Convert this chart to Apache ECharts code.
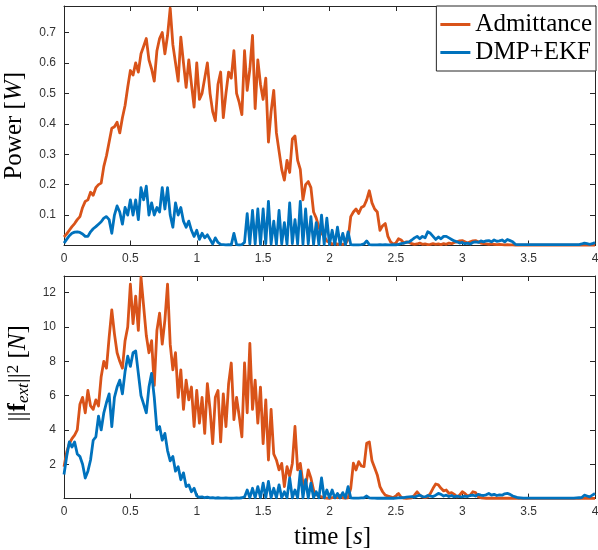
<!DOCTYPE html>
<html>
<head>
<meta charset="utf-8">
<script src="https://cdn.jsdelivr.net/npm/echarts@6/dist/echarts.min.js"></script>
<style>html,body{margin:0;padding:0;background:#fff}#c{width:598px;height:550px}</style>
</head>
<body>
<div id="c"></div>
<script>
// sampling step of the time axis [s]
const dt = 0.02;
const seriesNames = ['Admittance', 'DMP+EKF'];

// Power [W], Admittance
const powerAdmittance = [
0.028,0.038,0.05,0.062,0.072,0.085,0.095,0.125,0.145,0.15,
0.175,0.165,0.19,0.2,0.205,0.26,0.295,0.34,0.385,0.39,
0.405,0.37,0.42,0.46,0.52,0.575,0.56,0.6,0.57,0.63,
0.655,0.68,0.61,0.58,0.54,0.64,0.68,0.70,0.63,0.69,
0.78,0.66,0.6,0.54,0.685,0.6,0.52,0.61,0.53,0.455,
0.60,0.48,0.5,0.55,0.6,0.5,0.44,0.41,0.53,0.57,
0.42,0.5,0.57,0.55,0.64,0.5,0.47,0.43,0.64,0.51,
0.58,0.69,0.45,0.61,0.53,0.48,0.55,0.34,0.44,0.51,
0.37,0.31,0.25,0.215,0.28,0.24,0.35,0.36,0.28,0.25,
0.15,0.2,0.21,0.19,0.11,0.09,0.06,0.04,0.03,0.015,
0.01,0.005,0.008,0.004,0.006,0.004,0.005,0.02,0.095,0.11,
0.12,0.105,0.125,0.13,0.15,0.18,0.14,0.12,0.11,0.05,
0.065,0.072,0.03,0.012,0.005,0.008,0.022,0.018,0.008,0.012,
0.01,0.006,0.004,0.005,0.008,0.004,0.005,0.003,0.004,0.006,
0.004,0.005,0.003,0.006,0.004,0.008,0.006,0.01,0.012,0.015,
0.016,0.012,0.008,0.012,0.015,0.016,0.012,0.008,0.006,0.005,
0.004,0.005,0.004,0.003,0.004,0.003,0.002,0.003,0.002,0.002,
0.001,0.001,0.001,0.001,0.001,0.001,0.001,0.001,0.001,0.001,
0.001,0.001,0.001,0.001,0.001,0.001,0.001,0.001,0.001,0.001,
0.001,0.001,0.001,0.001,0.001,0.001,0.001,0.001,0.001,0.001,
0.001
];

// Power [W], DMP+EKF
const powerDmp = [
0.008,0.02,0.032,0.04,0.044,0.045,0.043,0.038,0.03,0.03,
0.045,0.055,0.062,0.07,0.078,0.09,0.095,0.085,0.04,0.1,
0.13,0.11,0.07,0.125,0.1,0.15,0.1,0.15,0.085,0.19,
0.15,0.195,0.1,0.14,0.1,0.125,0.11,0.19,0.12,0.19,
0.1,0.06,0.14,0.1,0.125,0.08,0.06,0.08,0.05,0.03,
0.05,0.02,0.04,0.025,0.035,0.02,0.005,0.025,0.01,0.004,
0.003,0.002,0.003,0.002,0.04,0.003,0.002,0.003,0.01,0.105,
0.005,0.115,0.005,0.12,0.004,0.12,0.006,0.145,0.005,0.08,
0.004,0.115,0.005,0.075,0.004,0.14,0.006,0.085,0.005,0.145,
0.004,0.12,0.005,0.095,0.004,0.075,0.003,0.1,0.004,0.09,
0.003,0.05,0.003,0.06,0.003,0.04,0.003,0.045,0.003,0.002,
0.002,0.002,0.003,0.005,0.015,0.003,0.002,0.002,0.002,0.003,
0.002,0.003,0.002,0.002,0.003,0.002,0.004,0.006,0.008,0.01,
0.012,0.018,0.025,0.03,0.022,0.03,0.025,0.045,0.04,0.03,
0.02,0.028,0.022,0.03,0.03,0.025,0.02,0.015,0.012,0.008,
0.01,0.006,0.008,0.005,0.01,0.012,0.01,0.015,0.012,0.015,
0.016,0.012,0.018,0.014,0.015,0.018,0.012,0.02,0.016,0.012,
0.004,0.003,0.003,0.003,0.003,0.003,0.003,0.003,0.003,0.003,
0.003,0.003,0.003,0.003,0.003,0.003,0.003,0.003,0.003,0.003,
0.003,0.003,0.003,0.003,0.003,0.005,0.008,0.006,0.004,0.006,
0.01
];

// ||f_ext||^2 [N], Admittance
const forceAdmittance = [
1.86,2.7,3.2,3.5,3.7,4.0,5.5,5.9,5.0,6.3,
5.4,5.2,5.75,5.4,7.1,8.0,7.6,9.4,11.0,9.6,
8.5,8.0,7.6,9.2,10.0,12.5,10.2,11.8,9.8,12.9,
11.2,9.5,8.5,9.2,6.6,9.8,10.8,9.0,10.4,12.5,
9.0,7.5,8.5,5.9,7.5,5.2,6.9,5.75,6.5,4.2,
6.3,4.4,5.9,3.8,6.7,5.2,3.2,5.9,6.3,3.3,
6.1,4.2,6.7,7.9,4.6,5.9,4.8,3.6,7.9,5.0,
9.05,5.2,6.9,4.4,6.5,3.2,5.75,2.25,5.2,2.6,
2.25,1.67,2.05,0.7,1.86,1.3,2.05,4.2,1.67,2.05,
0.9,0.7,1.67,1.2,0.5,0.22,0.15,0.1,0.05,0.03,
0.02,0.05,0.1,0.05,0.2,0.05,0.03,0.05,0.6,2.06,
1.67,2.15,1.9,1.86,3.22,3.3,2.2,1.8,1.38,0.7,
0.4,0.2,0.15,0.1,0.05,0.15,0.3,0.08,0.03,0.02,
0.03,0.05,0.2,0.4,0.2,0.1,0.05,0.1,0.3,0.6,
0.85,0.8,0.6,0.45,0.5,0.3,0.35,0.25,0.1,0.2,
0.4,0.3,0.15,0.2,0.4,0.35,0.1,0.05,0.03,0.02,
0.02,0.02,0.02,0.02,0.02,0.02,0.02,0.02,0.02,0.02,
0.01,0.01,0.01,0.01,0.01,0.01,0.01,0.01,0.01,0.01,
0.01,0.01,0.01,0.01,0.01,0.01,0.01,0.01,0.01,0.01,
0.01,0.01,0.01,0.01,0.01,0.01,0.01,0.01,0.01,0.01,
0.01
];

// ||f_ext||^2 [N], DMP+EKF
const forceDmp = [
1.4,2.45,3.3,3.0,3.3,2.6,2.45,2.0,1.2,1.6,
2.25,3.4,3.6,4.8,4.0,5.0,5.6,6.1,4.2,5.9,
6.5,6.9,6.1,7.4,8.3,7.7,8.5,8.6,7.3,6.0,
5.5,5.0,6.5,7.3,5.9,4.0,4.2,3.4,3.8,2.8,
2.2,2.45,1.6,1.86,1.1,1.5,0.7,0.8,0.4,0.6,
0.15,0.08,0.1,0.05,0.08,0.04,0.06,0.03,0.05,0.03,
0.03,0.04,0.03,0.02,0.03,0.04,0.03,0.05,0.1,0.5,
0.05,0.6,0.05,0.7,0.05,0.9,0.05,1.0,0.05,0.6,
0.05,0.8,0.05,0.4,0.05,1.2,0.05,0.5,0.05,1.6,
0.05,1.1,0.05,0.9,0.05,0.4,0.05,1.2,0.05,0.5,
0.05,0.5,0.04,0.3,0.04,0.35,0.04,0.7,0.04,0.03,
0.03,0.03,0.04,0.05,0.15,0.04,0.03,0.03,0.02,0.03,
0.02,0.03,0.02,0.03,0.02,0.03,0.04,0.05,0.06,0.08,
0.1,0.12,0.08,0.15,0.2,0.12,0.1,0.18,0.15,0.12,
0.2,0.3,0.25,0.15,0.2,0.12,0.18,0.1,0.15,0.12,
0.1,0.15,0.12,0.18,0.2,0.15,0.25,0.2,0.18,0.22,
0.3,0.2,0.25,0.18,0.22,0.2,0.28,0.3,0.25,0.15,
0.1,0.05,0.04,0.03,0.03,0.03,0.03,0.03,0.03,0.03,
0.03,0.03,0.03,0.03,0.03,0.03,0.03,0.03,0.03,0.03,
0.03,0.03,0.03,0.04,0.05,0.06,0.2,0.15,0.1,0.2,
0.3
];

const toPairs = arr => arr.map((v, i) => [+(i * dt).toFixed(2), v]);

const ink = '#262626';
const tickFont = { fontFamily: 'Liberation Sans, Arial, sans-serif', fontSize: 12, color: '#333' };
const nameFont = { fontFamily: 'Liberation Serif, serif', fontSize: 25, color: '#000' };

function xAx(grid, pos, withLabels, name) {
  const a = {
    gridIndex: grid, type: 'value', min: 0, max: 4, interval: 0.5, position: pos,
    axisLine: { show: true, onZero: false, lineStyle: { color: ink, width: 1 } },
    axisTick: { show: true, inside: true, length: 5, lineStyle: { color: ink } },
    axisLabel: withLabels ? Object.assign({ show: true, margin: 7 }, tickFont) : { show: false },
    splitLine: { show: false }
  };
  if (name) {
    a.name = name;
    a.nameLocation = 'middle';
    a.nameGap = 25;
    a.nameTextStyle = Object.assign({ lineHeight: 27, padding: [0, 0, 0, 6], rich: { it: Object.assign({ fontStyle: 'italic', lineHeight: 27 }, nameFont) } }, nameFont);
  }
  return a;
}

function yAx(grid, pos, max, interval, withLabels, fmt, name, nameGap, rich, lh, pad) {
  const a = {
    gridIndex: grid, type: 'value', min: 0, max: max, interval: interval, position: pos,
    axisLine: { show: true, onZero: false, lineStyle: { color: ink, width: 1 } },
    axisTick: { show: true, inside: true, length: 5, lineStyle: { color: ink } },
    axisLabel: withLabels ? Object.assign({ show: true, margin: 8, formatter: fmt }, tickFont) : { show: false },
    splitLine: { show: false }
  };
  if (name) {
    a.name = name;
    a.nameLocation = 'middle';
    a.nameGap = nameGap;
    a.nameRotate = 90;
    a.nameTextStyle = Object.assign({ lineHeight: lh, padding: pad, rich: rich }, nameFont);
  }
  return a;
}

const fmtPower = v => {
  const r = Math.round(v * 10);
  if (r <= 0 || Math.abs(v * 10 - r) > 1e-6) return '';
  return String(r / 10);
};
const fmtForce = v => {
  const r = Math.round(v);
  if (r <= 0 || r >= 13 || Math.abs(v - r) > 1e-6 || r % 2 !== 0) return '';
  return String(r);
};

const richPower = { it: Object.assign({ fontStyle: 'italic', lineHeight: 27 }, nameFont) };
const richForce = {
  b: Object.assign({}, nameFont, { fontWeight: 'bold', lineHeight: 27, verticalAlign: 'middle' }),
  sub: Object.assign({}, nameFont, { fontStyle: 'italic', fontSize: 17, lineHeight: 17, verticalAlign: 'bottom' }),
  sup: Object.assign({}, nameFont, { fontSize: 17, lineHeight: 17, verticalAlign: 'top' }),
  it: Object.assign({}, nameFont, { fontStyle: 'italic', lineHeight: 27, verticalAlign: 'middle' })
};

const colors = ['#D95319', '#0072BD'];
function line(name, data, xi, yi, color) {
  return {
    type: 'line', name: name, data: toPairs(data), xAxisIndex: xi, yAxisIndex: yi,
    showSymbol: false, symbol: 'none', smooth: false,
    lineStyle: { width: 2.8, color: color, join: 'round' }, itemStyle: { color: color },
    emphasis: { disabled: true }
  };
}

const chart = echarts.init(document.getElementById('c'), null, { renderer: 'canvas' });
chart.setOption({
  animation: false,
  backgroundColor: '#fff',
  grid: [
    { left: 64, right: 3, top: 6, height: 239.5, outerBoundsMode: 'none' },
    { left: 64, right: 3, top: 276, height: 222.6, outerBoundsMode: 'none' }
  ],
  legend: {
    data: seriesNames, right: 2, top: 6, orient: 'vertical', icon: 'rect',
    itemWidth: 30, itemHeight: 3, itemGap: 1, padding: [5, 4, 5, 4],
    borderColor: ink, borderWidth: 1, backgroundColor: '#fff',
    textStyle: Object.assign({ lineHeight: 27 }, nameFont),
    selectedMode: false
  },
  xAxis: [
    xAx(0, 'bottom', true),
    xAx(0, 'top', false),
    xAx(1, 'bottom', true, 'time [{it|s}]'),
    xAx(1, 'top', false)
  ],
  yAxis: [
    yAx(0, 'left', 0.787, 0.1, true, fmtPower, 'Power [{it|W}]', 32, richPower, 27, 0),
    yAx(0, 'right', 0.787, 0.1, false),
    yAx(1, 'left', 12.97, 2, true, fmtForce, '||{b|f}{sub|ext}||{sup|2} [{it|N}]', 25, richForce, 27, [0, 0, 0, 28]),
    yAx(1, 'right', 12.97, 2, false)
  ],
  series: [
    line(seriesNames[0], powerAdmittance, 0, 0, colors[0]),
    line(seriesNames[1], powerDmp, 0, 0, colors[1]),
    line(seriesNames[0], forceAdmittance, 2, 2, colors[0]),
    line(seriesNames[1], forceDmp, 2, 2, colors[1])
  ]
});
</script>
</body>
</html>
